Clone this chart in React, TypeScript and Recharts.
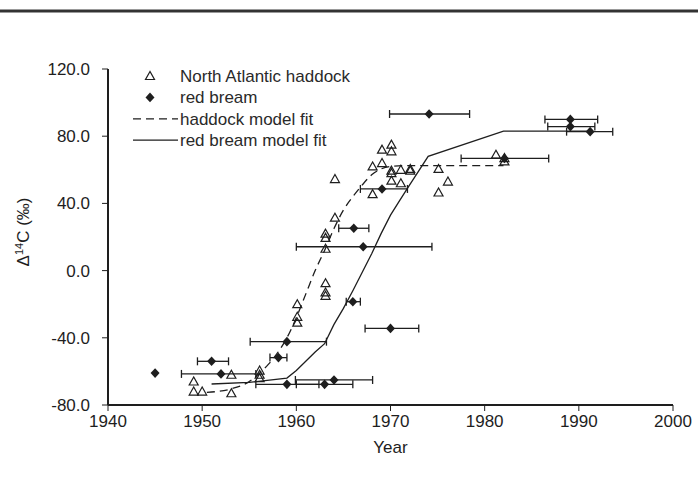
import React from 'react';
import { ComposedChart, Scatter, Line, XAxis, YAxis, ErrorBar } from 'recharts';

// North Atlantic haddock otolith values (open triangles)
const haddockYear = [
  1949.1, 1949.1, 1950.0, 1953.1, 1953.1, 1956.1, 1956.1, 1956.1,
  1960.1, 1960.1, 1960.1, 1963.1, 1963.1, 1963.1, 1963.1, 1963.1, 1963.1,
  1964.1, 1964.1, 1968.1, 1968.1, 1969.1, 1969.1, 1970.1, 1970.1, 1970.1,
  1970.1, 1970.1, 1971.1, 1971.1, 1972.1, 1972.1, 1975.1, 1975.1, 1976.1,
  1981.2, 1982.1, 1982.1,
];
const haddockD14C = [
  -66, -72, -72, -62, -73, -59.5, -62, -64,
  -20, -27.5, -31, -7.5, -13, -15, 13, 19.5, 22,
  31.5, 54.5, 45.5, 62, 64, 72, 75, 71, 59.5,
  58, 53.5, 60, 52, 60.5, 59.5, 60.5, 46.5, 53,
  69, 67, 65,
];

// red bream values (filled diamonds) with horizontal age error bars
const breamYear = [
  1951.0, 1952.0, 1958.1, 1959.0, 1959.0, 1963.0, 1964.0, 1966.0, 1970.0,
  1967.1, 1966.1, 1969.1, 1974.1, 1982.1, 1989.1, 1989.1, 1991.2,
];
const breamD14C = [
  -54, -61.5, -51.8, -42.3, -67.7, -67.7, -65.1, -18.5, -34.4,
  14.2, 25.2, 48.6, 93.2, 66.8, 90.0, 85.7, 82.7,
];
const breamLow = [
  1949.5, 1947.8, 1957.2, 1955.1, 1955.7, 1960.0, 1959.9, 1965.3, 1967.3,
  1960.0, 1964.5, 1966.8, 1969.9, 1977.5, 1986.4, 1986.7, 1988.7,
];
const breamHigh = [
  1952.8, 1955.7, 1959.0, 1963.2, 1962.4, 1966.0, 1968.1, 1966.8, 1973.0,
  1974.4, 1967.7, 1971.8, 1978.4, 1986.8, 1992.0, 1991.7, 1993.6,
];
const breamNoBarYear = [1945];
const breamNoBarD14C = [-61];

// model fits
const haddockFitYear = [
  1950.5, 1953, 1955, 1956, 1957, 1958, 1959, 1960, 1961, 1962, 1963,
  1964, 1965, 1966, 1967, 1968, 1969, 1970, 1972, 1982,
];
const haddockFitD14C = [
  -72.5, -70.5, -66, -61.5, -56, -49, -40, -28, -14, 0, 12,
  25, 36, 44, 51, 57, 60.5, 62, 62.5, 62.5,
];
const breamFitYear = [
  1951, 1955, 1959, 1960, 1961, 1962, 1963, 1964, 1965, 1966, 1967,
  1968, 1969, 1970, 1971, 1972, 1973, 1974, 1982, 1991,
];
const breamFitD14C = [
  -67.5, -66.5, -64, -59.5, -54, -48.5, -43.5, -32, -22.5, -12, -1,
  10, 22, 33, 42, 50.7, 59.3, 68, 83, 83,
];

const xTicks = [1940, 1950, 1960, 1970, 1980, 1990, 2000];
const yTicks = [-80, -40, 0, 40, 80, 120];

const haddock = haddockYear.map((x, i) => ({ x, y: haddockD14C[i] }));
const bream = breamYear.map((x, i) => ({
  x,
  y: breamD14C[i],
  err: [x - breamLow[i], breamHigh[i] - x],
}));
const breamNoBar = breamNoBarYear.map((x, i) => ({ x, y: breamNoBarD14C[i] }));
const haddockFit = haddockFitYear.map((x, i) => ({ x, y: haddockFitD14C[i] }));
const breamFit = breamFitYear.map((x, i) => ({ x, y: breamFitD14C[i] }));

const INK = '#1e1e1e';
const FONT = '"Liberation Sans", Arial, sans-serif';

const Triangle = (props: any) => {
  const { cx, cy } = props;
  if (cx == null || cy == null) return null;
  return (
    <polygon
      points={`${cx},${cy - 4.5} ${cx - 4.5},${cy + 3.5} ${cx + 4.5},${cy + 3.5}`}
      fill="none"
      stroke={INK}
      strokeWidth={1.2}
    />
  );
};

const Diamond = (props: any) => {
  const { cx, cy } = props;
  if (cx == null || cy == null) return null;
  return (
    <polygon
      points={`${cx},${cy - 4.8} ${cx + 4.5},${cy} ${cx},${cy + 4.8} ${cx - 4.5},${cy}`}
      fill={INK}
    />
  );
};

const YLabel = () => (
  <text
    transform="translate(29,232) rotate(-90)"
    textAnchor="middle"
    fontSize={17}
    fontFamily={FONT}
    fill={INK}
  >
    <tspan>Δ</tspan>
    <tspan fontSize={11} dy={-6}>14</tspan>
    <tspan dy={6}>C (‰)</tspan>
  </text>
);

const legendRows = [
  { label: 'North Atlantic haddock', kind: 'tri' },
  { label: 'red bream', kind: 'dia' },
  { label: 'haddock model fit', kind: 'dash' },
  { label: 'red bream model fit', kind: 'solid' },
];

function LegendBox() {
  return (
    <svg
      width={260}
      height={90}
      style={{ position: 'absolute', left: 128, top: 64 }}
    >
      {legendRows.map((r, i) => {
        const y = 12 + i * 21.4;
        return (
          <g key={r.label}>
            {r.kind === 'tri' && <Triangle cx={22} cy={y} />}
            {r.kind === 'dia' && <Diamond cx={22} cy={y} />}
            {r.kind === 'dash' && (
              <line x1={5} y1={y} x2={50} y2={y} stroke={INK} strokeWidth={1.3} strokeDasharray="8 5" />
            )}
            {r.kind === 'solid' && (
              <line x1={5} y1={y} x2={50} y2={y} stroke={INK} strokeWidth={1.3} />
            )}
            <text x={52} y={y + 6} fontSize={17} fontFamily={FONT} fill="#2a2a2a">
              {r.label}
            </text>
          </g>
        );
      })}
    </svg>
  );
}

export default function App() {
  return (
    <div
      style={{
        position: 'fixed',
        left: 0,
        top: 0,
        width: 698,
        height: 479,
        background: '#fff',
      }}
    >
      <div
        style={{
          position: 'absolute',
          left: 0,
          top: 9,
          width: 698,
          height: 2,
          background: '#333',
          borderTop: '1px solid #999',
          borderBottom: '1px solid #999',
        }}
      />
      <ComposedChart
        width={698}
        height={479}
        margin={{ top: 69, right: 25, bottom: 34, left: 0 }}
      >
        <XAxis
          type="number"
          dataKey="x"
          domain={[1940, 2000]}
          ticks={xTicks}
          allowDataOverflow
          stroke={INK}
          axisLine={{ stroke: INK, strokeWidth: 2 }}
          tickLine={{ stroke: INK, strokeWidth: 1 }}
          tickSize={6}
          tickMargin={4}
          height={40}
          tick={{ fill: INK, fontSize: 17, fontFamily: FONT }}
          label={{
            value: 'Year',
            position: 'insideBottom',
            offset: -8,
            fill: INK,
            fontSize: 17,
            fontFamily: FONT,
          }}
        />
        <YAxis
          type="number"
          dataKey="y"
          domain={[-80, 120]}
          ticks={yTicks}
          width={108}
          allowDataOverflow
          stroke={INK}
          axisLine={{ stroke: INK, strokeWidth: 2 }}
          tickLine={{ stroke: INK, strokeWidth: 1 }}
          tickSize={6}
          tickMargin={12}
          tickFormatter={(v: number) => v.toFixed(1)}
          tick={{ fill: INK, fontSize: 17, fontFamily: FONT }}
          label={<YLabel />}
        />
        <Line
          data={breamFit}
          dataKey="y"
          type="linear"
          stroke={INK}
          strokeWidth={1.3}
          dot={false}
          isAnimationActive={false}
        />
        <Line
          data={haddockFit}
          dataKey="y"
          type="monotone"
          stroke={INK}
          strokeWidth={1.3}
          strokeDasharray="8 5"
          dot={false}
          isAnimationActive={false}
        />
        <Scatter data={haddock} shape={<Triangle />} isAnimationActive={false} />
        <Scatter data={bream} shape={<Diamond />} isAnimationActive={false}>
          <ErrorBar dataKey="err" direction="x" width={4} stroke={INK} strokeWidth={1.3} />
        </Scatter>
        <Scatter data={breamNoBar} shape={<Diamond />} isAnimationActive={false} />
      </ComposedChart>
      <LegendBox />
    </div>
  );
}
